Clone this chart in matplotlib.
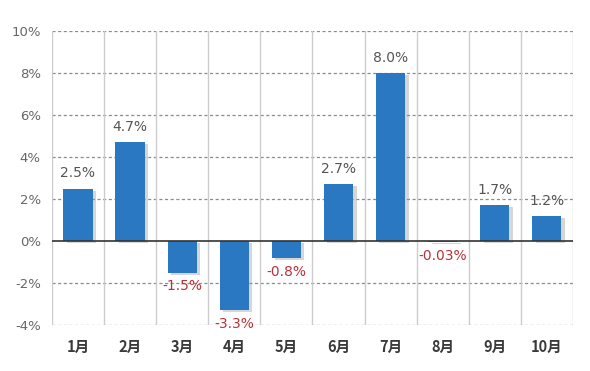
import matplotlib.pyplot as plt
import matplotlib.patheffects as pe
from matplotlib.ticker import FuncFormatter

plt.rcParams['font.family'] = ['DejaVu Sans', 'Noto Sans CJK JP']

months = ['1月', '2月', '3月', '4月', '5月', '6月', '7月', '8月', '9月', '10月']
values = [2.5, 4.7, -1.5, -3.3, -0.8, 2.7, 8.0, -0.03, 1.7, 1.2]
labels = ['2.5%', '4.7%', '-1.5%', '-3.3%', '-0.8%', '2.7%', '8.0%', '-0.03%', '1.7%', '1.2%']

fig = plt.figure(figsize=(5.9, 3.71), dpi=100)
ax = fig.add_axes([0.088, 0.124, 0.883, 0.792])

x = range(len(months))
shadow = [pe.SimplePatchShadow(offset=(2.5, -1.5), shadow_rgbFace='#999999', alpha=0.4), pe.Normal()]
bars = ax.bar(x, values, width=0.56, color='#2a78c2', zorder=3)
for b in bars:
    b.set_path_effects(shadow)

ax.set_xlim(-0.5, len(months) - 0.5)
ax.set_ylim(-4, 10)
ax.set_yticks(range(-4, 11, 2))
ax.yaxis.set_major_formatter(FuncFormatter(lambda v, p: f'{v:.0f}%'))
ax.set_xticks(list(x))
ax.set_xticklabels(months, fontweight='bold', color='#3a3a3a', fontsize=10.5,
                   family=['Noto Sans CJK JP', 'DejaVu Sans'])

# gridlines
for yv in range(-4, 11, 2):
    if yv != 0:
        ax.axhline(yv, color='#8c8c8c', lw=0.9, ls=(0, (2.5, 2)), zorder=1)
for i in range(len(months) + 1):
    ax.axvline(i - 0.5, color='#cccccc', lw=1, zorder=1)
ax.axhline(0, color='#333333', lw=1.2, zorder=4)

for s in ax.spines.values():
    s.set_visible(False)
ax.tick_params(axis='both', length=0)
ax.tick_params(axis='y', labelcolor='#666666', labelsize=9.5, pad=8)
ax.tick_params(axis='x', pad=10)

for i, (v, lab) in enumerate(zip(values, labels)):
    if v >= 0:
        ax.annotate(lab, (i, v), xytext=(0, 6), textcoords='offset points',
                    ha='center', va='bottom', color='#555555', fontsize=10)
    else:
        ax.annotate(lab, (i, v), xytext=(0, -5), textcoords='offset points',
                    ha='center', va='top', color='#b8323a', fontsize=10)

fig.savefig('out.png', dpi=100)
